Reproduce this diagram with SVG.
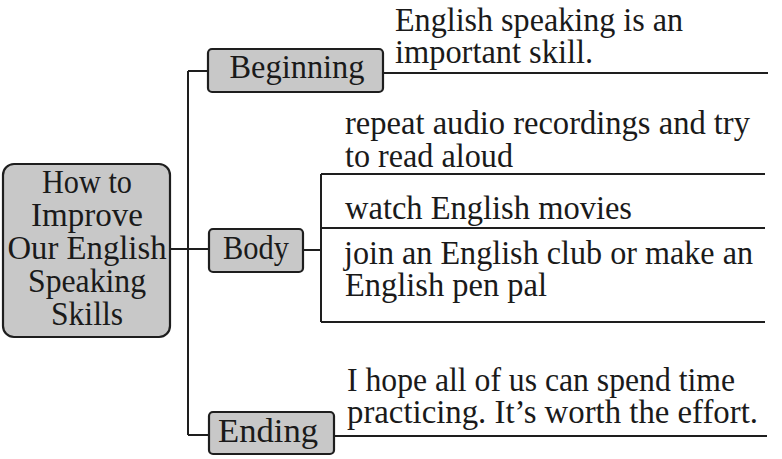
<svg xmlns="http://www.w3.org/2000/svg" width="782" height="459" viewBox="0 0 782 459">
<style>
.box{fill:#c8c8c8;stroke:#1e1e1e;stroke-width:2.2}
.ln{fill:none;stroke:#1e1e1e;stroke-width:2}
text{font-family:"Liberation Serif","Times New Roman",serif;font-size:34px;fill:#1a1a1a}
.c{text-anchor:middle}
</style>
<rect width="782" height="459" fill="#ffffff"/>
<g id="connectors">
<path class="ln" d="M170 249H188M188 71V435M188 71H208M188 249H209M188 435H209"/>
<path class="ln" d="M383 73H768"/>
<path class="ln" d="M303 250H321M321 174V322M321 174H765M321 228H765M321 322H765"/>
<path class="ln" d="M334 436H767"/>
</g>
<g id="root">
<rect class="box" x="3" y="164" width="167" height="173" rx="11"/>
<text class="c" x="87" y="193" textLength="90" lengthAdjust="spacingAndGlyphs">How to</text>
<text class="c" x="87" y="226" textLength="112" lengthAdjust="spacingAndGlyphs">Improve</text>
<text class="c" x="87" y="259" textLength="159" lengthAdjust="spacingAndGlyphs">Our English</text>
<text class="c" x="87" y="292" textLength="118" lengthAdjust="spacingAndGlyphs">Speaking</text>
<text class="c" x="87" y="325" textLength="72" lengthAdjust="spacingAndGlyphs">Skills</text>
</g>
<g id="beginning">
<rect class="box" x="208" y="49" width="175" height="43" rx="4"/>
<text class="c" x="297" y="78" textLength="135" lengthAdjust="spacingAndGlyphs">Beginning</text>
</g>
<g id="body">
<rect class="box" x="209" y="229" width="94" height="43" rx="4"/>
<text class="c" x="256" y="259" textLength="66" lengthAdjust="spacingAndGlyphs">Body</text>
</g>
<g id="ending">
<rect class="box" x="209" y="412" width="125" height="42" rx="4"/>
<text class="c" x="268" y="442" textLength="100" lengthAdjust="spacingAndGlyphs">Ending</text>
</g>
<g id="beginning-text">
<text x="395" y="31" textLength="288" lengthAdjust="spacingAndGlyphs">English speaking is an</text>
<text x="395" y="63" textLength="198" lengthAdjust="spacingAndGlyphs">important skill.</text>
</g>
<g id="body-text">
<text x="345" y="134" textLength="405" lengthAdjust="spacingAndGlyphs">repeat audio recordings and try</text>
<text x="345" y="167" textLength="168" lengthAdjust="spacingAndGlyphs">to read aloud</text>
<text x="345" y="219" textLength="287" lengthAdjust="spacingAndGlyphs">watch English movies</text>
<text x="344" y="264" textLength="409" lengthAdjust="spacingAndGlyphs">join an English club or make an</text>
<text x="345" y="296" textLength="202" lengthAdjust="spacingAndGlyphs">English pen pal</text>
</g>
<g id="ending-text">
<text x="347" y="391" textLength="388" lengthAdjust="spacingAndGlyphs">I hope all of us can spend time</text>
<text x="347" y="423" textLength="411" lengthAdjust="spacingAndGlyphs">practicing. It’s worth the effort.</text>
</g>
</svg>
